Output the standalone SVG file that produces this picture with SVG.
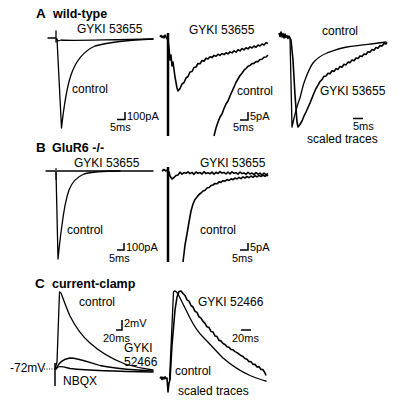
<svg xmlns="http://www.w3.org/2000/svg" width="400" height="405" viewBox="0 0 400 405">
<style>
text{font-family:"Liberation Sans",Arial,sans-serif;font-size:12px;fill:#000}
.h{font-weight:bold;font-size:12.5px}
.L{font-weight:bold;font-size:13.5px}
.s{font-size:11px}
.t{fill:none;stroke:#000;stroke-width:1.3;stroke-linejoin:round;stroke-linecap:round}
.n{fill:none;stroke:#000;stroke-width:1.6;stroke-linejoin:round}
.sb{fill:none;stroke:#000;stroke-width:1.5}
</style>
<rect width="400" height="405" fill="#fff"/>
<g id="panel-a">
<text class="L" x="36" y="18">A</text><text class="h" x="53" y="18">wild-type</text>
<g id="a1">
<text x="77" y="33">GYKI 53655</text>
<text x="72" y="93">control</text>
<path class="t" d="M48,38 L56,38 M56,31 V42 M56,38 L58,41 L61,40 C70,41 90,40 153,39"/>
<path class="t" d="M57,39 L61.5,128 C63.5,110 66.5,88 71,75 C76,60 84,51 95,46 C110,42 130,40 153,39"/>
<path class="sb" d="M117,119.5 H125 V112"/>
<text class="s" x="127" y="120">100pA</text><text class="s" x="110" y="131">5ms</text>
</g>
<g id="a2">
<text x="189" y="34">GYKI 53655</text>
<text x="237" y="95">control</text>
<path d="M168,33 V136" stroke="#000" stroke-width="2.5"/>
<path class="n" d="M160,37 L161,35.5 L162,37.5 L163,36 L164,38 L165,35 L166,37 L168,40 L169,48 L170,60 L171,55 L172,66 L173,62 L175,77 L177,88 L178,91 L180,88.5 L182,84 L184,82.5 L186,78 L188,76.5 L190,72 L192,71.5 L194,67.5 L196,67 L198,63.5 L200,63.8 L202,60.5 L204,61.2 L206,58.2 L208,58.9 L210,56.7 L212,57.6 L214,55.4 L216,56.3 L218,54.3 L220,55.4 L222,53.5 L224,54.6 L226,52.8 L228,53.9 L230,51.9 L232,52.9 L234,50.9 L236,52.2 L238,49.8 L240,50.9 L242,48.6 L244,49.9 L246,47.8 L248,48.9 L250,46.9 L252,48 L254,46 L256,47.2 L258,45.1 L260,46 L262,44 L264,45 L266,42.8 L268,43.6"/>
<path class="n" d="M214,136 L216,128 L218,122 L220,117 L222,114 L224,108.5 L226,104 L228,101 L230,96 L232,91.5 L234,87 L236,82.5 L238,79 L240,75.5 L242,73.2 L244,70.2 L246,68.5 L248,66.2 L250,65.4 L252,63.6 L254,63.4 L256,61.5 L258,61.6 L260,59.5 L262,59.3 L264,57.3 L266,57 L268,55.2"/>
<path class="sb" d="M240,120 H248 V112"/>
<text class="s" x="250" y="120">5pA</text><text class="s" x="233" y="131">5ms</text>
</g>
<g id="a3">
<text x="322" y="35">control</text>
<text x="320" y="95">GYKI 53655</text>
<path class="n" d="M279,33 L280,36.5 L281,32 L282,37 L283,33.5 L284,38 L285,34 L286,37.5 L287,35.5 L288,38.5 L289,36 L291,40 L293,60 L295,95 L297,122 L298,127 L300,124.5 L302,121 L304,116 L306,112 L308,107.5 L310,103 L312,98 L314,93 L316,88.5 L318,85.2 L320,81.5 L322,79.6 L324,76.2 L326,76 L328,73.2 L330,73.8 L332,70.7 L334,71.5 L336,68.6 L338,69.4 L340,66.4 L342,67.2 L344,64.2 L346,64.9 L348,62.1 L350,62.6 L352,59.9 L354,60.8 L356,58 L358,58.6 L360,55.9 L362,56.5 L364,54 L366,54.5 L368,51.7 L370,52.2 L372,49.6 L374,50.3 L376,47.5 L378,48.2 L380,45.6 L382,46 L384,43.4 L386,44 L387,42.3"/>
<path class="t" d="M290,38 L292,127 C294,118 297,105 300,98 C302,90 303,85 305,80 C308,72 310,67 313,63 C318,57 322,55 327,53 C335,50 340,48 347,47 C360,45 372,44 386,42"/>
<path class="sb" d="M353,118.5 H363"/>
<text class="s" x="353" y="130">5ms</text>
<text x="307" y="143">scaled traces</text>
</g>
</g>
<g id="panel-b">
<text class="L" x="36" y="152">B</text><text class="h" x="52" y="152">GluR6 -/-</text>
<g id="b1">
<text x="74" y="167">GYKI 53655</text>
<text x="67" y="234">control</text>
<path class="t" d="M46,171 H153"/>
<path d="M56,168 V180" stroke="#777" stroke-width="2"/>
<path class="t" d="M56,171 L58,259 C59.5,245 60.5,235 62,225 C63.5,213 65.5,200 69,190 C72,182 77,177 84,174 C92,171.8 100,171.2 120,171"/>
<path class="sb" d="M117,250 H124 V243"/>
<text class="s" x="126" y="251">100pA</text><text class="s" x="109" y="262">5ms</text>
</g>
<g id="b2">
<text x="200" y="167">GYKI 53655</text>
<text x="200" y="234">control</text>
<path d="M168,167 V262" stroke="#000" stroke-width="2.5"/>
<path class="n" d="M162,171 L164,169.5 L166,171 L167,170 L169,172 L170,176 L172,179 L174,177.5 L176,175.5 L178,174.9 L180,172.2 L182,174.1 L184,172.6 L186,173.3 L188,171.8 L190,173.7 L192,172.4 L194,174.3 L196,172 L198,173.2 L200,172.5 L202,174 L204,171.7 L206,173.6 L208,172.8 L210,173.8 L212,172.1 L214,174.2 L216,172.3 L218,173.5 L220,171.6 L222,173.1 L224,172.4 L226,174 L228,172.2 L230,173.9 L232,171.8 L234,173.3 L236,172.7 L238,174.1 L240,172 L242,173.6 L244,172.9 L246,174.4 L248,172.3 L250,174 L252,173 L254,174.6 L256,172.6 L258,174.2 L260,173.1 L262,175 L264,173.2 L266,174.7 L268,173.5"/>
<path class="n" d="M183,262 L185,245 L187,234 L189,222 L191,211 L193,204 L195,199.5 L197,197 L199,194.5 L201,193 L203,191 L205,190.2 L207,188 L209,187.5 L211,185.6 L213,185 L215,183.5 L217,183.8 L219,181.9 L221,182.4 L223,180.7 L225,181.2 L227,179.6 L229,180.5 L231,178.8 L233,179.7 L235,178.1 L237,179 L239,177.4 L241,178.6 L243,176.9 L245,178 L247,176.5 L249,177.6 L251,176 L253,177.3 L255,175.7 L257,176.9 L259,175.4 L261,176.5 L263,175.2 L265,176.3 L267,175 L268,175.8"/>
<path class="sb" d="M240,250 H248 V243"/>
<text class="s" x="250" y="251">5pA</text><text class="s" x="232" y="262">5ms</text>
</g>
</g>
<g id="panel-c">
<text class="L" x="35" y="288">C</text><text class="h" x="52" y="288">current-clamp</text>
<g id="c1">
<text x="79" y="306">control</text>
<text x="124" y="352">GYKI</text><text x="124" y="366">52466</text>
<text x="10" y="372">-72mV</text>
<text x="63" y="385">NBQX</text>
<path d="M44,369 H55" stroke="#000" stroke-width="1" stroke-dasharray="1,1.5"/>
<path d="M55,363 V386" stroke="#000" stroke-width="1.5"/>
<path class="t" d="M55,369 L57,362 L59.5,292 L61,293 C63,298 66,307 70,316 C75,326 82,336 90,343 C100,352 112,359 125,364 C135,367 145,369 153,370"/>
<path class="t" d="M56,369 C58,364 63,359 70,358 C78,358 88,362 100,365.5 C115,369 135,370 153,371"/>
<path class="t" d="M56,369 L58,367 C61,366 64,367 70,368.5 C90,370.5 120,371.5 153,372"/>
<path class="sb" d="M116,330 H122 V320"/>
<text class="s" x="124" y="327">2mV</text><text class="s" x="103" y="342">20ms</text>
</g>
<g id="c2">
<text x="198" y="306">GYKI 52466</text>
<text x="175" y="375">control</text>
<text x="178" y="395">scaled traces</text>
<path class="n" d="M160,378.5 L161,377 L162,379.5 L163,377.2 L164,379 L165,376.8 L166,378.6 L167,378 L168,392 L169,383 L170,380"/>
<path class="t" d="M169.5,380 L173.5,292 C174.5,290 176,291 178,294 C181,300 186,310 190,318 C194,326 198,332 203,337 C210,344 216,351 223,358 C230,364 240,371 250,375.5 C256,378 261,380 266,381"/>
<path class="n" d="M170,380 L172,345 L175,310 L177,297 L179,291.5 L181,291 L183,293.5 L185,295.5 L187,299.8 L189,301.2 L191,305.5 L193,307 L195,311.3 L197,312.4 L199,316.8 L201,318.1 L203,321.4 L205,323.4 L207,326.8 L209,327.6 L211,331.5 L213,332 L215,335.9 L217,336.5 L219,340.4 L221,340.9 L223,343.6 L225,344.4 L227,346.8 L229,347.2 L231,349.5 L233,349.8 L235,351.6 L237,352.6 L239,354.1 L241,355.6 L243,356.5 L245,358.6 L247,359.2 L249,361.7 L251,361.6 L253,364.4 L255,364.3 L257,367 L259,366.6 L261,369.5 L263,369.6 L265,373 L266,375.5"/>
<path class="sb" d="M241,330 H251"/>
<text class="s" x="232" y="342">20ms</text>
</g>
</g>
</svg>
